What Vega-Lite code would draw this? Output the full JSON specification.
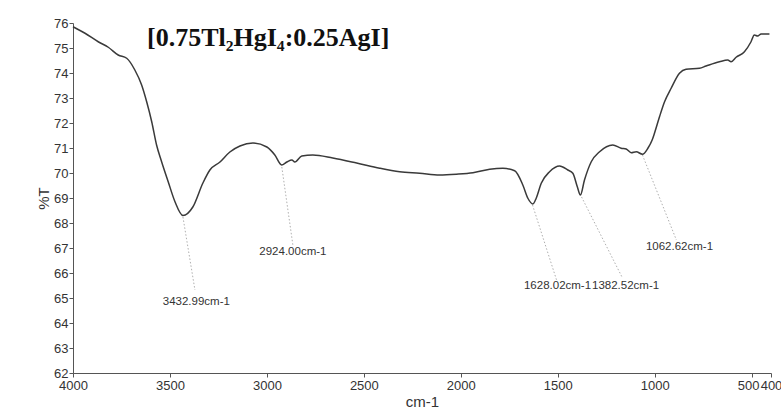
{
  "$schema": "https://vega.github.io/schema/vega-lite/v6.json",
  "width": 698,
  "height": 350,
  "autosize": {"type": "none"},
  "padding": {"left": 73, "top": 23, "right": 10, "bottom": 42},
  "background": "white",
  "title": {
    "text": "[0.75Tl₂HgI₄:0.25AgI]",
    "font": "Liberation Serif",
    "fontWeight": "bold",
    "fontSize": 26,
    "color": "#111111",
    "anchor": "start",
    "frame": "group",
    "baseline": "alphabetic",
    "offset": 0,
    "dx": 74,
    "dy": 55
  },
  "datasets": {
    "spectrum": [
      {"wn": 4000, "T": 75.85},
      {"wn": 3938, "T": 75.59},
      {"wn": 3870, "T": 75.25},
      {"wn": 3818, "T": 75.03},
      {"wn": 3767, "T": 74.72},
      {"wn": 3723, "T": 74.59},
      {"wn": 3681, "T": 74.12},
      {"wn": 3646, "T": 73.52},
      {"wn": 3620, "T": 72.85},
      {"wn": 3594, "T": 72.05},
      {"wn": 3569, "T": 71.12},
      {"wn": 3543, "T": 70.45},
      {"wn": 3509, "T": 69.65},
      {"wn": 3474, "T": 68.85},
      {"wn": 3433, "T": 68.3},
      {"wn": 3382, "T": 68.64},
      {"wn": 3330, "T": 69.6},
      {"wn": 3294, "T": 70.12},
      {"wn": 3242, "T": 70.44},
      {"wn": 3191, "T": 70.84},
      {"wn": 3139, "T": 71.08},
      {"wn": 3072, "T": 71.2},
      {"wn": 3000, "T": 71.04},
      {"wn": 2959, "T": 70.72},
      {"wn": 2924, "T": 70.32},
      {"wn": 2897, "T": 70.44},
      {"wn": 2871, "T": 70.52},
      {"wn": 2856, "T": 70.44},
      {"wn": 2820, "T": 70.68},
      {"wn": 2763, "T": 70.72},
      {"wn": 2660, "T": 70.6},
      {"wn": 2537, "T": 70.4},
      {"wn": 2418, "T": 70.19},
      {"wn": 2315, "T": 70.05},
      {"wn": 2212, "T": 69.99},
      {"wn": 2109, "T": 69.92},
      {"wn": 2023, "T": 69.95},
      {"wn": 1937, "T": 70.01},
      {"wn": 1851, "T": 70.15},
      {"wn": 1783, "T": 70.19},
      {"wn": 1722, "T": 70.09},
      {"wn": 1680, "T": 69.52},
      {"wn": 1654, "T": 68.99},
      {"wn": 1628, "T": 68.76},
      {"wn": 1611, "T": 68.99},
      {"wn": 1585, "T": 69.59},
      {"wn": 1542, "T": 70.05},
      {"wn": 1490, "T": 70.28},
      {"wn": 1448, "T": 70.12},
      {"wn": 1422, "T": 69.99},
      {"wn": 1399, "T": 69.45},
      {"wn": 1383, "T": 69.12},
      {"wn": 1362, "T": 69.72},
      {"wn": 1327, "T": 70.45},
      {"wn": 1284, "T": 70.85},
      {"wn": 1216, "T": 71.12},
      {"wn": 1173, "T": 70.99},
      {"wn": 1147, "T": 70.96},
      {"wn": 1121, "T": 70.81},
      {"wn": 1095, "T": 70.85},
      {"wn": 1063, "T": 70.75},
      {"wn": 1035, "T": 70.99},
      {"wn": 1013, "T": 71.32},
      {"wn": 1001, "T": 71.59},
      {"wn": 975, "T": 72.25},
      {"wn": 949, "T": 72.85},
      {"wn": 915, "T": 73.39},
      {"wn": 872, "T": 73.99},
      {"wn": 838, "T": 74.15},
      {"wn": 769, "T": 74.19},
      {"wn": 735, "T": 74.28},
      {"wn": 666, "T": 74.45},
      {"wn": 623, "T": 74.52},
      {"wn": 606, "T": 74.45},
      {"wn": 580, "T": 74.63},
      {"wn": 537, "T": 74.85},
      {"wn": 503, "T": 75.25},
      {"wn": 486, "T": 75.52},
      {"wn": 469, "T": 75.48},
      {"wn": 451, "T": 75.56},
      {"wn": 408, "T": 75.56}
    ],
    "peaks": [
      {"label": "3432.99cm-1", "wn": 3433, "T": 68.24, "wn2": 3371, "T2": 65.32, "lwn": 3364, "lT": 64.84},
      {"label": "2924.00cm-1", "wn": 2923, "T": 70.24, "wn2": 2866, "T2": 67.12, "lwn": 2866, "lT": 66.84},
      {"label": "1628.02cm-1", "wn": 1630, "T": 68.72, "wn2": 1506, "T2": 65.72, "lwn": 1501, "lT": 65.48},
      {"label": "1382.52cm-1", "wn": 1377, "T": 69.04, "wn2": 1166, "T2": 65.8, "lwn": 1150, "lT": 65.48},
      {"label": "1062.62cm-1", "wn": 1063, "T": 70.72, "wn2": 888, "T2": 67.32, "lwn": 872, "lT": 67.04}
    ]
  },
  "config": {
    "view": {"stroke": null},
    "axis": {
      "grid": false,
      "domainColor": "#555555",
      "tickColor": "#555555",
      "labelColor": "#333333",
      "labelFont": "Liberation Sans",
      "labelFontSize": 13,
      "titleFont": "Liberation Sans",
      "titleFontWeight": "normal",
      "titleColor": "#333333",
      "titleFontSize": 15,
      "tickSize": 4
    }
  },
  "layer": [
    {
      "data": {"name": "spectrum"},
      "mark": {"type": "line", "color": "#3a3a3a", "strokeWidth": 1.5, "interpolate": "monotone"},
      "encoding": {
        "x": {
          "field": "wn", "type": "quantitative",
          "scale": {"domain": [4000, 400], "nice": false, "zero": false},
          "axis": {
            "title": "cm-1",
            "values": [4000, 3500, 3000, 2500, 2000, 1500, 1000, 500, 400],
            "format": "d",
            "labelOverlap": false,
            "labelFlush": false,
            "labelBound": false,
            "labelOffset": {"condition": {"test": "datum.value == 500", "value": -3.5}, "value": 0},
            "labelPadding": 2,
            "titlePadding": 2
          }
        },
        "y": {
          "field": "T", "type": "quantitative",
          "scale": {"domain": [62, 76], "nice": false, "zero": false},
          "axis": {
            "title": "%T",
            "values": [62, 63, 64, 65, 66, 67, 68, 69, 70, 71, 72, 73, 74, 75, 76],
            "tickCount": 15,
            "labelOverlap": false,
            "labelBound": false,
            "labelPadding": 1,
            "titlePadding": 2,
            "labelFlush": false
          }
        }
      }
    },
    {
      "data": {"name": "peaks"},
      "mark": {"type": "rule", "color": "#9a9a9a", "strokeWidth": 0.8, "strokeDash": [1.5, 2]},
      "encoding": {
        "x": {"field": "wn", "type": "quantitative", "axis": {"title": "cm-1", "values": [4000, 3500, 3000, 2500, 2000, 1500, 1000, 500, 400]}},
        "y": {"field": "T", "type": "quantitative", "axis": {"title": "%T", "values": [62, 63, 64, 65, 66, 67, 68, 69, 70, 71, 72, 73, 74, 75, 76], "tickCount": 15}},
        "x2": {"field": "wn2"},
        "y2": {"field": "T2"}
      }
    },
    {
      "data": {"name": "peaks"},
      "mark": {"type": "text", "font": "Liberation Sans", "fontSize": 11.5, "color": "#333333", "align": "center", "baseline": "middle"},
      "encoding": {
        "x": {"field": "lwn", "type": "quantitative", "axis": {"title": "cm-1", "values": [4000, 3500, 3000, 2500, 2000, 1500, 1000, 500, 400]}},
        "y": {"field": "lT", "type": "quantitative", "axis": {"title": "%T", "values": [62, 63, 64, 65, 66, 67, 68, 69, 70, 71, 72, 73, 74, 75, 76], "tickCount": 15}},
        "text": {"field": "label"}
      }
    }
  ]
}
